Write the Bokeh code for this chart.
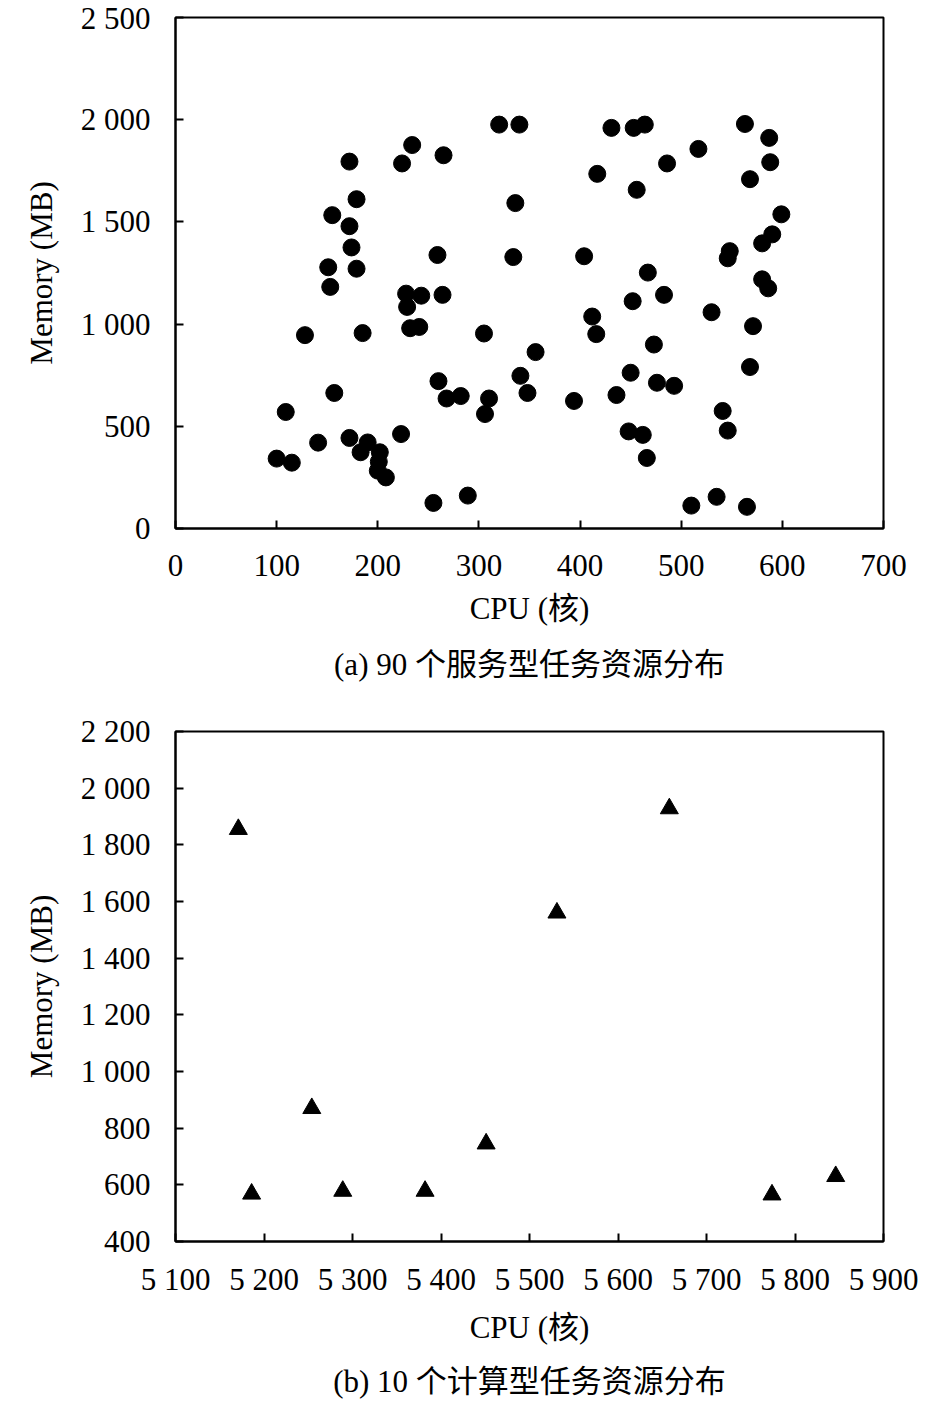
from bokeh.plotting import figure
from bokeh.models import Range1d, FixedTicker, Title
from bokeh.layouts import column
from bokeh.embed import file_html
from bokeh.resources import INLINE

# ---- data: (a) 90 service tasks ----
svc_cpu = [320, 340, 234, 172, 224, 265, 179, 336, 155, 172,
           174, 259, 334, 151, 179, 153, 228, 243, 264, 229,
           232, 241, 128, 185, 305, 260, 157, 268, 282, 310,
           306, 341, 348, 109, 141, 172, 190, 183, 202, 200,
           208, 223, 100, 115, 255, 289, 201,
           431, 453, 464, 563, 587, 517, 588, 486, 417, 568,
           456, 599, 590, 580, 548, 546, 404, 467, 580, 586,
           483, 452, 530, 412, 571, 416, 473, 356, 450, 476,
           493, 568, 394, 436, 541, 546, 448, 462, 466, 510,
           535, 565]
svc_mem = [1976, 1976, 1876, 1795, 1786, 1826, 1611, 1592, 1533, 1479,
           1375, 1338, 1328, 1278, 1271, 1182, 1149, 1139, 1143, 1084,
           980, 986, 946, 956, 954, 721, 663, 636, 648, 636,
           560, 747, 663, 570, 420, 443, 421, 373, 373, 283,
           250, 462, 342, 322, 125, 161, 327,
           1960, 1960, 1976, 1979, 1911, 1857, 1792, 1786, 1735, 1709,
           1657, 1537, 1439, 1395, 1357, 1322, 1332, 1252, 1219, 1175,
           1143, 1112, 1058, 1037, 990, 951, 900, 863, 762, 713,
           698, 790, 624, 653, 575, 479, 475, 458, 345, 112,
           155, 106]

# ---- data: (b) 10 compute tasks ----
cmp_cpu = [5171, 5186, 5254, 5289, 5382, 5451, 5531, 5658, 5774, 5846]
cmp_mem = [1855, 568, 870, 578, 578, 745, 1560, 1928, 565, 630]

# ---- ticks ----
a_xticks = [0, 100, 200, 300, 400, 500, 600, 700]
a_xlabels = ["0", "100", "200", "300", "400", "500", "600", "700"]
a_yticks = [0, 500, 1000, 1500, 2000, 2500]
a_ylabels = ["0", "500", "1 000", "1 500", "2 000", "2 500"]
b_xticks = [5100, 5200, 5300, 5400, 5500, 5600, 5700, 5800, 5900]
b_xlabels = ["5 100", "5 200", "5 300", "5 400", "5 500", "5 600", "5 700", "5 800", "5 900"]
b_yticks = [400, 600, 800, 1000, 1200, 1400, 1600, 1800, 2000, 2200]
b_ylabels = ["400", "600", "800", "1 000", "1 200", "1 400", "1 600", "1 800", "2 000", "2 200"]

x_title = "CPU (核)"
y_title = "Memory (MB)"
cap_a = "(a) 90 个服务型任务资源分布"
cap_b = "(b) 10 个计算型任务资源分布"

FONT = "Liberation Serif, Noto Sans CJK SC"


def make(xr, yr, xt, xl, yt, yl, caption, fh, top, bottom, s_tick, s_lab, s_cap):
    p = figure(frame_width=708, frame_height=fh,
               x_range=Range1d(*xr), y_range=Range1d(*yr),
               output_backend="svg", toolbar_location=None, title=None,
               min_border_left=175, min_border_right=50,
               min_border_top=top, min_border_bottom=bottom)
    p.background_fill_color = "white"
    p.border_fill_color = "white"
    p.outline_line_color = "black"
    p.outline_line_width = 2
    p.grid.visible = False
    for ax, ticks, labels in ((p.xaxis[0], xt, xl), (p.yaxis[0], yt, yl)):
        ax.ticker = FixedTicker(ticks=ticks)
        ax.major_label_overrides = {t: s for t, s in zip(ticks, labels)}
        ax.minor_tick_line_color = None
        ax.major_tick_in = 8
        ax.major_tick_out = 0
        ax.major_tick_line_width = 2
        ax.axis_line_width = 2
        ax.major_label_text_font = FONT
        ax.major_label_text_font_size = "31px"
        ax.major_label_text_color = "black"
        ax.axis_label_text_font = FONT
        ax.axis_label_text_font_size = "31px"
        ax.axis_label_text_font_style = "normal"
        ax.axis_label_text_color = "black"
    p.xaxis[0].axis_label = x_title
    p.yaxis[0].axis_label = y_title
    p.xaxis[0].major_label_standoff = s_tick
    p.xaxis[0].axis_label_standoff = s_lab
    p.yaxis[0].major_label_standoff = 25
    p.yaxis[0].axis_label_standoff = 19
    p.add_layout(Title(text=caption, align="center", text_font=FONT,
                       text_font_size="31px", text_font_style="normal",
                       text_color="black", standoff=s_cap), "below")
    return p


p1 = make((0, 700), (0, 2500), a_xticks, a_xlabels, a_yticks, a_ylabels,
          cap_a, 511, 17, 180, 26, 12, 32)
p1.scatter(svc_cpu, svc_mem, marker="circle", size=17, color="black")

p2 = make((5100, 5900), (400, 2200), b_xticks, b_xlabels, b_yticks, b_ylabels,
          cap_b, 510, 23, 160, 20, 10, 28)
p2.scatter(cmp_cpu, cmp_mem, marker="triangle", size=18, color="black")

layout = column(p1, p2)
open("out.html", "w").write(file_html(layout, INLINE))
